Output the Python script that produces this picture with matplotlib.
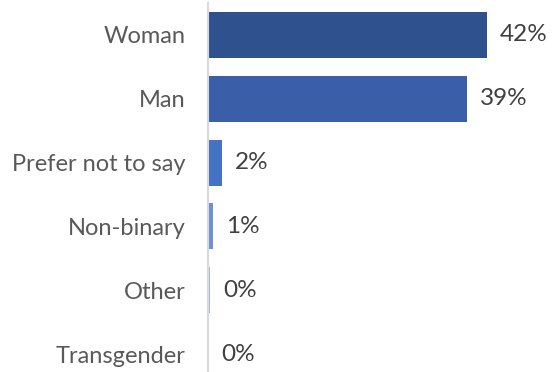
import matplotlib.pyplot as plt

categories = ['Woman', 'Man', 'Prefer not to say', 'Non-binary', 'Other', 'Transgender']
values = [42, 39, 2.1, 0.7, 0.25, 0.0]
labels = ['42%', '39%', '2%', '1%', '0%', '0%']
colors = ['#2F528F', '#3A5EA7', '#4472C4', '#7090D6', '#A6B7E6', '#C5D0EF']

plt.rcParams['font.family'] = ['Lato', 'DejaVu Sans']

W, H = 552, 372
fig = plt.figure(figsize=(W / 100, H / 100), dpi=100)
ax = fig.add_axes([208 / W, 0, (537 - 208) / W, 369 / H])

y = list(range(len(categories)))
ax.barh(y, values, height=0.72, color=colors)
for yi, v, lab in zip(y, values, labels):
    ax.text(v + 2.0, yi, lab, va='center', ha='left', fontsize=17.5, color='#404040')

ax.set_xlim(0, 49.6)
ax.set_ylim(5.28, -0.50)
ax.set_yticks(y)
ax.set_yticklabels(categories, fontsize=17, color='#595959')
ax.tick_params(axis='y', length=0, pad=16)
ax.set_xticks([])
for s in ['top', 'right', 'bottom']:
    ax.spines[s].set_visible(False)
ax.spines['left'].set_color('#D9D9D9')
ax.spines['left'].set_linewidth(1.5)

fig.savefig('out.png', dpi=100)
